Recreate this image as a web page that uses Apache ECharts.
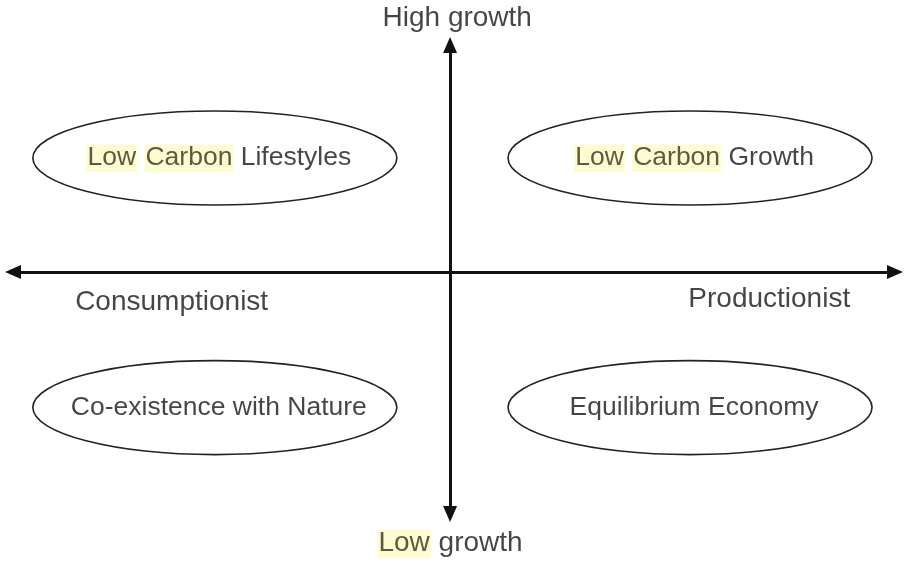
<!DOCTYPE html>
<html>
<head>
<meta charset="utf-8">
<title>Growth / orientation quadrants</title>
<script src="https://cdn.jsdelivr.net/npm/echarts@6/dist/echarts.min.js"></script>
<style>
html, body { margin: 0; padding: 0; background: #fff; }
#main { width: 905px; height: 566px; }
</style>
</head>
<body>
<div id="main"></div>
<script>
// scenarios in the four quadrants (x: consumptionist - / productionist +, y: low - / high growth +)
var scenarios = ['Low Carbon Lifestyles', 'Low Carbon Growth', 'Co-existence with Nature', 'Equilibrium Economy'];
var scenarioX = [-0.98, 1.0, -0.98, 1.0];
var scenarioY = [0.95, 0.95, -1.13, -1.13];

// labels at the poles of the two axes
var poles = ['High growth', 'Low growth', 'Consumptionist', 'Productionist'];
var poleX = [0.03, 0.0, -1.16, 1.33];
var poleY = [2.115, -2.265, -0.25, -0.23];

// words marked in yellow
var highlighted = ['Low', 'Carbon'];

var FONT = 'Liberation Sans, Arial, Helvetica, sans-serif';

// wrap the highlighted words in a rich-text style
function markWords(text) {
  return text.split(' ').map(function (w) {
    return highlighted.indexOf(w) >= 0 ? '{hl|' + w + '}' : w;
  }).join(' ');
}

function makeLabel(size) {
  return {
    show: true,
    position: 'inside',
    color: '#161616',
    fontSize: size,
    fontFamily: FONT,
    lineHeight: 30,
    formatter: function (p) { return markWords(p.name); },
    rich: {
      hl: {
        color: '#33311a',
        backgroundColor: '#fdfbc4',
        fontSize: size,
        fontFamily: FONT,
        lineHeight: 30,
        padding: [0, 1]
      }
    }
  };
}

var myChart = echarts.init(document.getElementById('main'));

var axisLine = {
  onZero: true,
  symbol: ['triangle', 'triangle'],
  symbolSize: [14, 16],
  lineStyle: { color: '#111', width: 3 }
};

var option = {
  animation: false,
  backgroundColor: '#fff',
  grid: { left: 13, right: 10, top: 45, bottom: 52 },
  xAxis: {
    type: 'value',
    min: -1.821,
    max: 1.854,
    axisLine: axisLine,
    axisTick: { show: false },
    axisLabel: { show: false },
    splitLine: { show: false }
  },
  yAxis: {
    type: 'value',
    min: -2.017,
    max: 1.892,
    axisLine: axisLine,
    axisTick: { show: false },
    axisLabel: { show: false },
    splitLine: { show: false }
  },
  series: [
    {
      // ellipses round each scenario
      type: 'custom',
      silent: true,
      data: scenarios.map(function (n, i) { return [scenarioX[i], scenarioY[i]]; }),
      renderItem: function (params, api) {
        var c = api.coord([api.value(0), api.value(1)]);
        return {
          type: 'ellipse',
          shape: { cx: c[0], cy: c[1], rx: 182, ry: 47 },
          style: { fill: '#fff', stroke: '#222', lineWidth: 1.6 }
        };
      },
      z: 3
    },
    {
      // scenario names
      type: 'scatter',
      silent: true,
      clip: false,
      symbolSize: 1,
      itemStyle: { color: 'rgba(0,0,0,0)' },
      data: scenarios.map(function (n, i) { return { name: n, value: [scenarioX[i], scenarioY[i]] }; }),
      label: Object.assign(makeLabel(26.5), { offset: [4, 0] }),
      z: 5
    },
    {
      // pole labels
      type: 'scatter',
      silent: true,
      clip: false,
      symbolSize: 1,
      itemStyle: { color: 'rgba(0,0,0,0)' },
      data: poles.map(function (n, i) { return { name: n, value: [poleX[i], poleY[i]] }; }),
      label: makeLabel(28),
      z: 5
    }
  ]
};

myChart.setOption(option);
</script>
</body>
</html>
